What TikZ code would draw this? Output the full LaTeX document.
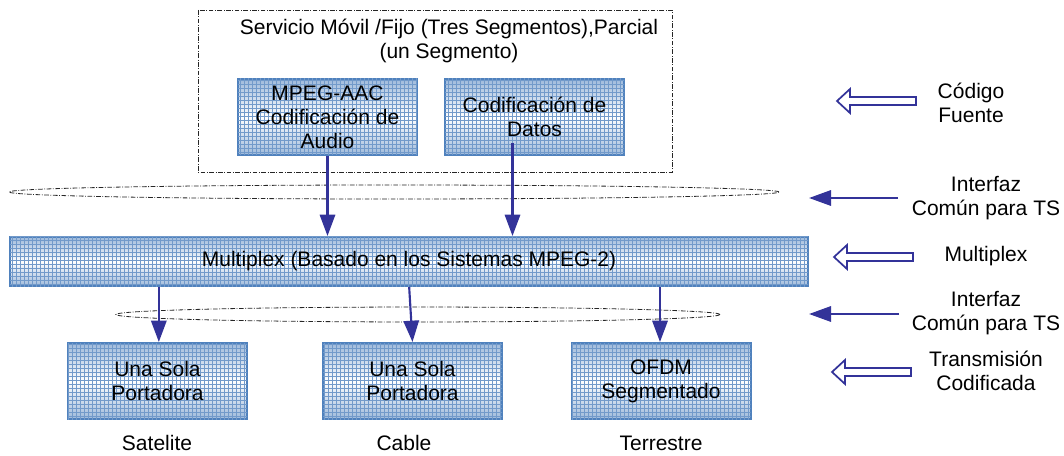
\documentclass[tikz,border=0pt]{standalone}
\usepackage{fontspec}
\setmainfont{Liberation Sans}
\usetikzlibrary{arrows.meta,patterns}

\definecolor{boxblue}{HTML}{4F81BD}
\definecolor{arrowblue}{HTML}{333399}

\tikzset{
  hollowleft/.pic={
    \draw[arrowblue, line width=1.3pt, fill=white, line join=miter]
      (0,0) -- (13,-12) -- (13,-4) -- (79,-4) -- (79,4) -- (13,4) -- (13,12) -- cycle;
  }
}

\begin{document}
\begin{tikzpicture}[x=0.75pt,y=-0.75pt,
  every node/.style={font=\fontsize{15.75}{18}\selectfont, align=center, inner sep=0pt},
  gridbox/.style={draw=boxblue, line width=1.5pt,
    top color=boxblue!55, bottom color=boxblue!55, middle color=white,
    postaction={pattern=grid, pattern color=boxblue!80, fill opacity=0.5}},
  smallbox/.style={gridbox, minimum width=134.25pt, minimum height=57pt},
  flow/.style={draw=arrowblue, line width=1.6pt, -{Triangle[length=16pt,width=11.5pt]}},
  sideflow/.style={draw=arrowblue, line width=1.6pt, -{Triangle[length=16.5pt,width=11.5pt]}},
  ring/.style={draw=black!85, line width=0.6pt,
    dash pattern=on 3.5pt off 1.2pt on 0.6pt off 1.2pt},
]
\useasboundingbox (0,0) rectangle (1064,456);

% service frame with its title
\draw[ring] (198,10) rectangle (672,172);
\node (svc) at (449,41) {Servicio Móvil /Fijo (Tres Segmentos),Parcial\\(un Segmento)};

% source coding blocks
\node[smallbox] (audio) at (327.5,117) {MPEG-AAC\\Codificación de\\Audio};
\node[smallbox] (datos) at (534.5,117) {Codificación de\\Datos};

% transport stream interfaces
\draw[ring] (394,192) ellipse [x radius=288.75pt, y radius=5.25pt];
\draw[ring] (418,314.5) ellipse [x radius=226.5pt, y radius=5.6pt];

% multiplexer
\node[gridbox, minimum width=598.5pt, minimum height=36.75pt] (mux) at (409,261.5)
  {Multiplex (Basado en los Sistemas MPEG-2)};

% transmission blocks
\node[smallbox] (sat)  at (157.5,381) {Una Sola\\Portadora};
\node[smallbox] (cab)  at (412.5,381) {Una Sola\\Portadora};
\node[smallbox] (ofdm) at (661,381)   {OFDM\\Segmentado};

\node (satl) at (157,443) {Satelite};
\node (cabl) at (404,443) {Cable};
\node (terl) at (661,443) {Terrestre};

% flows
\draw[flow] (audio.south) -- (audio.south |- mux.north);
\draw[flow] ([xshift=-16.5pt,yshift=9.75pt]datos.south) -- ([xshift=-16.5pt]datos.south |- mux.north);
\draw[flow] ([xshift=1pt]sat.north |- mux.south) -- ([xshift=1pt]sat.north);
\draw[flow] ([xshift=-2.5pt]cab.north |- mux.south) -- (cab.north);
\draw[flow] ([xshift=-0.75pt]ofdm.north |- mux.south) -- ([xshift=-0.75pt]ofdm.north);

% layer legend
\node (srcl) at (971,102.5) {Código\\Fuente};
\pic at (837,101) {hollowleft};

\node (tsl1) at (986,198) {Interfaz\\Común para TS};
\coordinate (tsa) at (898,198);
\coordinate (tsb) at (809,198);
\draw[sideflow] (tsa) -- (tsb);

\node (muxl) at (986,256) {Multiplex};
\pic at (834,257) {hollowleft};

\node (tsl2) at (986,313.5) {Interfaz\\Común para TS};
\coordinate (tsc) at (899,314);
\coordinate (tsd) at (809,314);
\draw[sideflow] (tsc) -- (tsd);

\node (txl) at (986,370.5) {Transmisión\\Codificada};
\pic at (832,372) {hollowleft};
\end{tikzpicture}
\end{document}
